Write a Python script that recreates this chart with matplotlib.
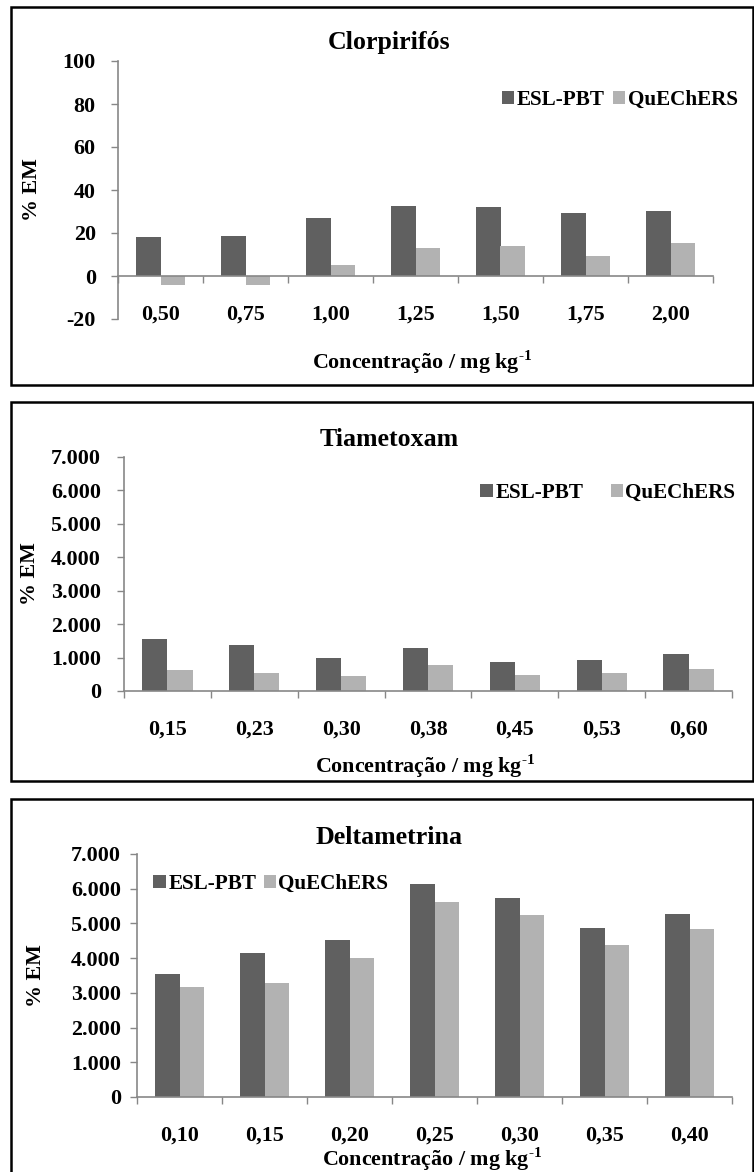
import matplotlib
matplotlib.use('Agg')

import numpy as np
import matplotlib.pyplot as plt
from matplotlib.patches import Rectangle
from matplotlib.ticker import FuncFormatter, FixedLocator

plt.rcParams['font.family'] = ['Liberation Serif', 'DejaVu Serif']
plt.rcParams['font.weight'] = 'bold'
plt.rcParams['axes.unicode_minus'] = False
plt.rcParams['mathtext.fontset'] = 'custom'
plt.rcParams['mathtext.rm'] = 'Liberation Serif:bold'
plt.rcParams['mathtext.bf'] = 'Liberation Serif:bold'

# data
series_names = ['ESL-PBT', 'QuEChERS']

clor_conc = ['0,50', '0,75', '1,00', '1,25', '1,50', '1,75', '2,00']
clor_esl = [18.2, 18.7, 27.1, 32.6, 32.2, 29.4, 30.4]
clor_que = [-4.4, -4.1, 5.2, 13.2, 14.1, 9.4, 15.4]

tiam_conc = ['0,15', '0,23', '0,30', '0,38', '0,45', '0,53', '0,60']
tiam_esl = [1570, 1390, 1000, 1300, 860, 940, 1120]
tiam_que = [640, 550, 460, 790, 490, 550, 670]

delt_conc = ['0,10', '0,15', '0,20', '0,25', '0,30', '0,35', '0,40']
delt_esl = [3550, 4140, 4510, 6150, 5740, 4880, 5260]
delt_que = [3180, 3270, 3990, 5630, 5230, 4390, 4850]

DARK = '#606060'
LIGHT = '#b2b2b2'
AXIS = '#878787'
W, H = 754, 1172
FS = 15.8
LFS = 15.2

fig = plt.figure(figsize=(W / 100, H / 100), dpi=100)


def px_axes(x0, x1, y0, y1):
    return fig.add_axes([x0 / W, 1 - y1 / H, (x1 - x0) / W, (y1 - y0) / H])


def br_fmt(v, pos):
    return f'{int(round(v)):,}'.replace(',', '.')


def panel(box, axbox, title, title_y, cats, esl, que, ylim, ystep,
          ylab_x, ypad, leg_xy, leg_sp, xlab_xy):
    bx0, bx1, by0, by1 = box
    fig.patches.append(Rectangle((bx0 / W, 1 - by1 / H), (bx1 - bx0) / W,
                                 (by1 - by0) / H, transform=fig.transFigure,
                                 fill=False, edgecolor='black', linewidth=1.8))
    ax = px_axes(*axbox)
    x = np.arange(len(cats))
    bw = 0.29
    ax.bar(x - bw / 2, esl, bw, color=DARK, label=series_names[0])
    ax.bar(x + bw / 2, que, bw, color=LIGHT, label=series_names[1])
    ax.set_xlim(-0.5, len(cats) - 0.5)
    ax.set_ylim(*ylim)
    ax.set_yticks(np.arange(ylim[0], ylim[1] + ystep / 2, ystep))
    ax.yaxis.set_major_formatter(FuncFormatter(br_fmt))
    ax.set_xticks(x)
    ax.set_xticklabels(cats)
    ax.xaxis.set_minor_locator(FixedLocator(np.arange(-0.5, len(cats), 1)))
    ax.tick_params(axis='x', which='major', length=0, pad=20.5, labelsize=FS)
    ax.tick_params(axis='x', which='minor', length=5, width=1, color=AXIS,
                   direction='out')
    ax.tick_params(axis='y', length=5, width=1, color=AXIS, direction='out',
                   pad=ypad, labelsize=FS)
    for s in ['top', 'right']:
        ax.spines[s].set_visible(False)
    for s in ['left', 'bottom']:
        ax.spines[s].set_color(AXIS)
        ax.spines[s].set_linewidth(1.2)
    if ylim[0] < 0:
        ax.spines['bottom'].set_position(('data', 0))
    ax.legend(loc='center', bbox_to_anchor=leg_xy, ncol=2, frameon=False,
              fontsize=LFS, handlelength=0.6, handleheight=0.6,
              handletextpad=0.1, columnspacing=leg_sp, borderpad=0)
    fig.text(ylab_x / W, 1 - (axbox[2] + axbox[3]) / 2 / H, '% EM',
             fontsize=FS, rotation=90, ha='center', va='center')
    fig.text(389 / W, 1 - title_y / H, title, fontsize=18.6, ha='center',
             va='center')
    fig.text(xlab_xy[0] / W, 1 - xlab_xy[1] / H,
             r'Concentração / mg kg$^{\text{-1}}$', fontsize=FS, ha='center',
             va='center')
    return ax


panel((11, 753, 7, 385), (118, 713, 61, 319), 'Clorpirifós', 43,
      clor_conc, clor_esl, clor_que, (-20, 100), 20,
      32, 11, (0.843, 0.849), 0.4, (422, 362))

panel((11, 753, 402, 781), (124, 732, 457, 691), 'Tiametoxam', 439,
      tiam_conc, tiam_esl, tiam_que, (0, 7000), 1000,
      30, 11.5, (0.796, 0.846), 1.3, (425, 766))

panel((11, 753, 799, 1190), (137, 732, 854, 1097), 'Deltametrina', 837,
      delt_conc, delt_esl, delt_que, (0, 7000), 1000,
      36, 6.5, (0.225, 0.877), 0.35, (432, 1159))

fig.savefig('out.png', dpi=100)
